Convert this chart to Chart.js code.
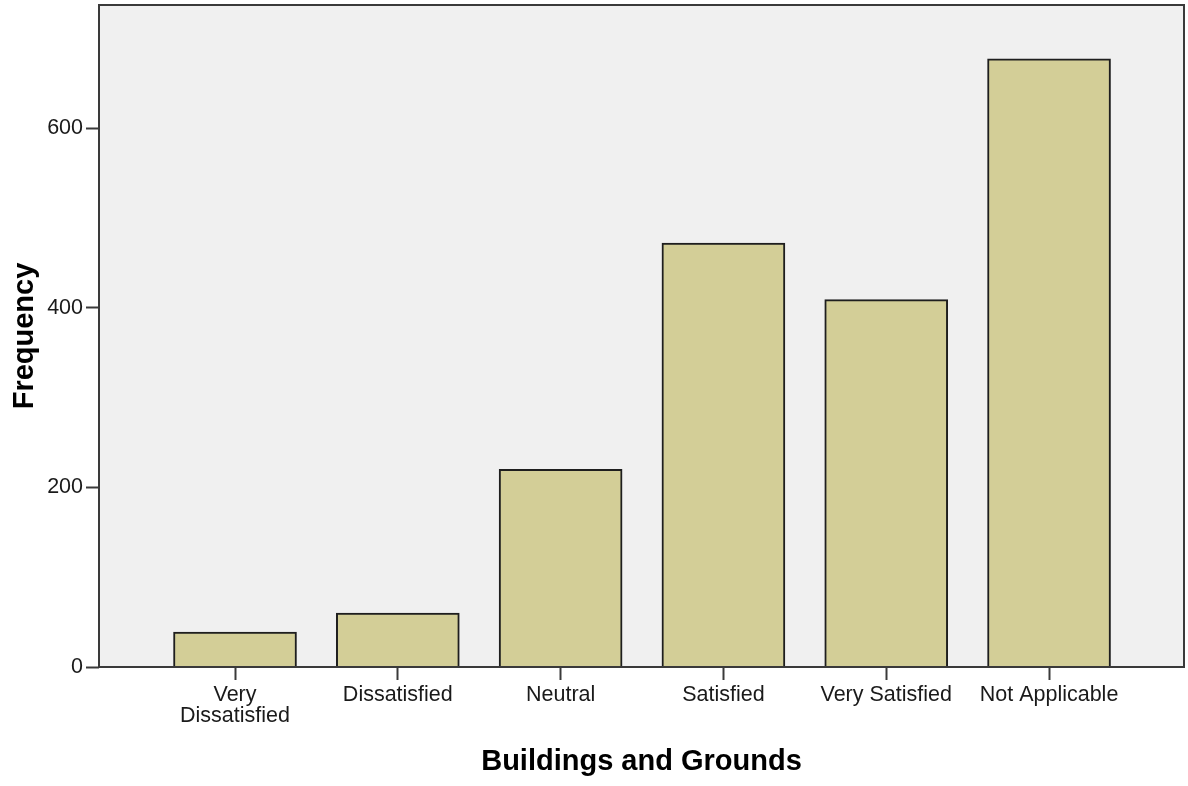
<!DOCTYPE html>
<html>
<head>
<meta charset="utf-8">
<script src="https://cdn.jsdelivr.net/npm/chart.js@4/dist/chart.umd.min.js"></script>
<style>
  html, body { margin: 0; padding: 0; background: #ffffff; }
  #wrap { width: 1188px; height: 786px; }
</style>
</head>
<body>
<div id="wrap"><canvas id="c" width="1188" height="786"></canvas></div>
<script>
// ---- data ----
const categories = ["Very Dissatisfied", "Dissatisfied", "Neutral", "Satisfied", "Very Satisfied", "Not Applicable"];
const tickLabels = [["Very", "Dissatisfied"], "Dissatisfied", "Neutral", "Satisfied", "Very Satisfied", "Not Applicable"];
const frequencies = [39, 60, 220, 472, 409, 677];
const yTickValues = [0, 200, 400, 600];
const xTitle = "Buildings and Grounds";
const yTitle = "Frequency";

const points = categories.map((c, i) => ({ x: i + 1, y: frequencies[i] }));

const framePlugin = {
  id: 'frame',
  beforeDraw(chart) {
    const { ctx, chartArea: a } = chart;
    ctx.save();
    ctx.fillStyle = '#f0f0f0';
    ctx.fillRect(a.left, a.top, a.right - a.left, a.bottom - a.top);
    ctx.restore();
  },
  afterDraw(chart) {
    const { ctx, chartArea: a } = chart;
    ctx.save();
    ctx.strokeStyle = '#3a3a3a';
    ctx.lineWidth = 2;
    ctx.strokeRect(a.left, a.top, a.right - a.left, a.bottom - a.top);
    ctx.restore();
  }
};

new Chart(document.getElementById('c'), {
  type: 'bar',
  data: {
    datasets: [{
      label: yTitle,
      data: points,
      backgroundColor: '#d3ce97',
      borderColor: '#1e1e1e',
      borderWidth: 2,
      borderSkipped: 'start',
      barThickness: 123
    }]
  },
  options: {
    responsive: false,
    animation: false,
    devicePixelRatio: 1,
    layout: { padding: { top: 5, right: 4, left: 0, bottom: 0 } },
    plugins: {
      legend: { display: false },
      tooltip: { enabled: false },
      title: { display: false }
    },
    scales: {
      x: {
        type: 'linear',
        offset: false,
        min: 0.1646,
        max: 6.829,
        afterBuildTicks(scale) {
          scale.ticks = categories.map((c, i) => ({ value: i + 1 }));
        },
        afterFit(scale) {
          scale.height = 119;
          scale.paddingLeft = 0;
          scale.paddingRight = 0;
        },
        grid: {
          display: true,
          offset: false,
          drawOnChartArea: false,
          drawTicks: true,
          tickLength: 13,
          tickWidth: 2,
          tickColor: '#3a3a3a'
        },
        border: { display: false },
        ticks: {
          autoSkip: false,
          maxRotation: 0,
          minRotation: 0,
          padding: 4,
          color: '#1a1a1a',
          font: { family: '"Liberation Sans", Arial, sans-serif', size: 21.5, lineHeight: '21.7px' },
          callback(value) {
            const idx = Math.round(value) - 1;
            return tickLabels[idx] !== undefined ? tickLabels[idx] : '';
          }
        },
        title: {
          display: true,
          text: xTitle,
          color: '#000000',
          font: { family: '"Liberation Sans", Arial, sans-serif', size: 29, weight: 'bold' },
          padding: { top: 0, bottom: 7 }
        }
      },
      y: {
        type: 'linear',
        min: 0,
        max: 737,
        afterBuildTicks(scale) {
          scale.ticks = yTickValues.map(v => ({ value: v }));
        },
        afterFit(scale) {
          scale.width = 99;
          scale.paddingTop = 0;
          scale.paddingBottom = 0;
        },
        grid: {
          display: true,
          drawOnChartArea: false,
          drawTicks: true,
          tickLength: 13,
          tickWidth: 2,
          tickColor: '#3a3a3a'
        },
        border: { display: false },
        ticks: {
          padding: 3,
          color: '#1a1a1a',
          font: { family: '"Liberation Sans", Arial, sans-serif', size: 21.5 }
        },
        title: {
          display: true,
          text: yTitle,
          color: '#000000',
          font: { family: '"Liberation Sans", Arial, sans-serif', size: 29, weight: 'bold' },
          padding: { top: 8, bottom: 0 }
        }
      }
    }
  },
  plugins: [framePlugin]
});
</script>
</body>
</html>
